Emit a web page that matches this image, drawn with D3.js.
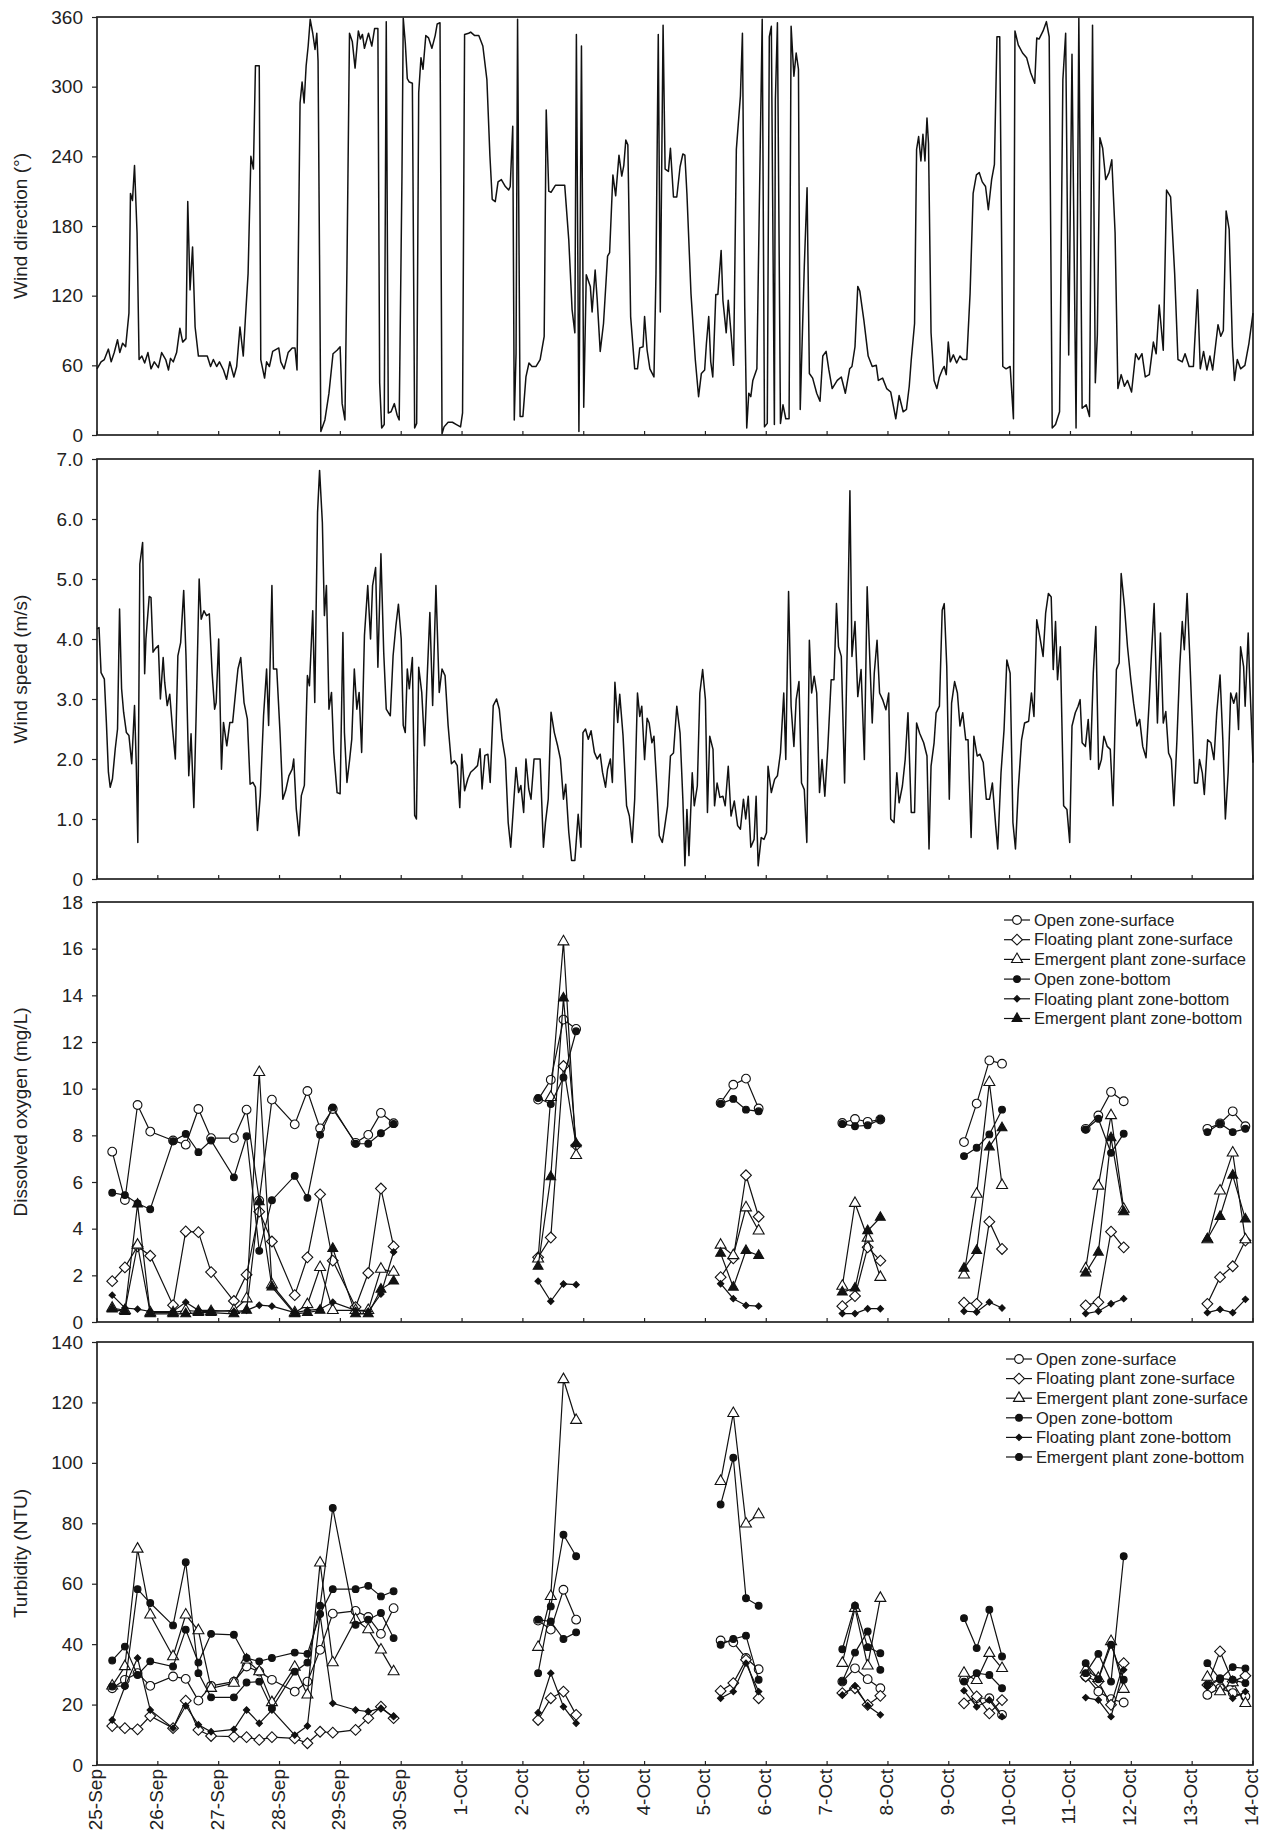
<!DOCTYPE html>
<html>
<head>
<meta charset="utf-8">
<script src="https://cdn.jsdelivr.net/npm/d3@7"></script>
<style>
body{margin:0;background:#fff}
text{font-family:"Liberation Sans",Arial,sans-serif;fill:#222}
</style>
</head>
<body>
<svg id="chart" width="1265" height="1836"></svg>
<script>
// tick labels for the shared time axis (hours since 25-Sep 00:00)
var dateLabels = ['25-Sep','26-Sep','27-Sep','28-Sep','29-Sep','30-Sep','1-Oct','2-Oct','3-Oct','4-Oct',
  '5-Oct','6-Oct','7-Oct','8-Oct','9-Oct','10-Oct','11-Oct','12-Oct','13-Oct','14-Oct'];

// wind direction, [hour, degrees]
var windDir = [[0,57],[1.6,63],[2.9,65],[4.5,74],[5.6,63],[6.8,71],[8.1,82],[9,71],[10.1,79],[11.3,76],[12.6,105],[13.2,208],[14,202],[14.8,232],[15.8,174],[16.6,65],[17.7,68],[18.8,62],[20.1,71],[21.3,57],[22.6,63],
  [24.2,58],[25.5,71],[27.1,65],[28.2,56],[29,66],[30.1,63],[31.4,71],[32.7,92],[33.8,80],[35.1,83],[35.8,201],[36.7,125],[37.7,162],[38.7,93],[40,68],[41.9,68],[43.5,68],[44.8,59],[45.9,65],[47.2,59],
  [48.3,63],[49.9,56],[51.1,48],[52.4,63],[54,50],[55.1,59],[56.4,93],[57.7,68],[58.5,99],[59.6,139],[60.7,240],[61.7,229],[62.5,318],[64,318],[64.6,65],[66.1,49],[66.9,63],[68,59],[69.3,72],[71.7,75],
  [72.5,63],[73.8,57],[75.4,71],[77,75],[78.1,75],[78.9,56],[80.1,286],[80.9,304],[81.7,286],[82.5,318],[83.3,335],[84.1,358],[85.1,346],[86,332],[86.7,346],[87.2,322],[88.3,3],[89.9,13],[91.5,36],[93.1,70],[94.7,73],
  [95.9,76],[96.7,27],[97.8,13],[98.6,145],[99.6,346],[100.7,339],[101.8,316],[103.1,348],[103.9,341],[104.7,345],[105.5,333],[107.1,346],[108.4,335],[109.5,350],[110.8,350],[111.5,45],[112.3,6],[113.3,9],[114.1,356],[114.9,19],[116,20],[117.3,27],[118.4,17],[119.2,13],
  [120.3,223],[120.8,359],[121.6,338],[122.4,307],[123.2,304],[124.4,303],[125.3,6],[126.1,10],[126.9,295],[127.8,325],[128.6,315],[129.7,344],[130.8,342],[132.1,333],[133.4,344],[134.2,354],[135.3,355],[136.1,1],[136.9,7],[138.5,11],[140.2,11],[141.8,9],[143.4,7],
  [144.2,19],[145,345],[146.6,346],[147.4,347],[149,344],[150.6,344],[152.2,335],[153.8,306],[155,240],[155.9,203],[157.1,201],[158.2,218],[159.5,220],[161.1,214],[162.4,211],[163,214],[164,266],[164.6,13],[165.3,70],[165.9,358],[166.9,16],
  [168,16],[169.2,50],[170.4,62],[171.6,59],[173.2,59],[174.8,65],[176.4,85],[177.2,280],[178.2,210],[179.1,209],[180.8,215],[182.8,215],[184.5,215],[186.1,168],[187.4,108],[188.5,88],[189.1,345],[190.1,3],[191.1,335],
  [192,24],[193,138],[194.6,128],[195.3,106],[196.5,142],[197.3,117],[198.5,72],[199.8,96],[201.4,154],[202.2,157],[203.5,224],[204.6,206],[205.9,241],[207,223],[207.8,232],[208.6,254],[209.4,250],[210.5,102],
  [212.1,57],[213.2,57],[214.1,75],[215.4,76],[216,102],[217,73],[218.1,57],[219.7,50],[220.5,139],[221.4,345],[222.2,106],[223.3,353],[224.1,229],[225.4,227],[226.2,247],[227.4,205],[228.7,205],[230,231],[231.1,242],[231.9,241],[232.7,208],[234.3,122],
  [236,65],[237.3,33],[238.4,53],[239.7,56],[240.4,79],[241.3,102],[242.1,63],[242.9,50],[244.1,121],[244.9,121],[246.2,159],[246.9,116],[248.2,88],[249,116],[250.1,88],[251.1,60],[252.2,246],[253.8,292],[254.6,346],[255.5,111],[256.3,6],[257.1,36],[257.9,33],[258.7,47],
  [260.3,57],[261.1,174],[262.4,358],[263.3,7],[264.4,10],[265.2,343],[266,352],[267.2,9],[267.6,289],[268.4,355],[269.6,10],[270.6,26],[271.7,14],[273,14],[273.8,352],[274.9,309],[275.8,329],[276.7,315],[277.4,22],[279,145],[280.1,213],[281,53],[282.3,49],
  [283.9,36],[285.2,29],[286.3,68],[287.6,72],[288.7,56],[290,40],[292,47],[293.6,50],[295.2,36],[296.9,57],[297.8,59],[299,76],[300.1,128],[300.9,124],[302.5,99],[304.2,68],[305.8,59],[307.4,60],[308.2,47],[309.9,49],[311.5,40],[313.1,37],[315.1,14],[316.4,34],[318,20],[319.3,22],
  [320.4,42],[321.2,65],[322.5,96],[323.3,246],[324.1,257],[325,236],[325.8,259],[326.6,236],[327.4,273],[328,251],[329,88],[330.2,47],[331.3,40],[332.3,50],[333.4,56],[334.2,59],[335,52],[335.8,80],[336.6,63],[337.8,69],[339.1,62],[340.4,68],[341.5,65],[343.1,65],
  [344.4,122],[345.6,208],[346.9,224],[348,226],[349.2,218],[350.5,214],[351.6,194],[352.9,220],[354,233],[355,343],[356.1,343],[357.3,59],[358.6,57],[360.2,59],[361.5,14],[362.1,348],[363.4,336],[365.1,329],[366.7,325],[368.3,312],[369.9,303],[370.7,342],[371.6,341],[373.2,348],[374.5,356],[375.6,343],
  [376.8,6],[378.1,9],[379.7,20],[381,306],[382.1,346],[383.3,69],[384.6,328],[386.2,6],[387.3,359],[388.6,23],[390.2,26],[391.5,16],[392.7,353],[393.8,45],[394.6,86],[395.6,256],[396.7,247],[397.9,220],[399.2,226],[400.3,237],[401.6,174],[402.7,40],[404,52],[405.3,42],[406.5,47],
  [408.1,37],[409.7,70],[410.9,65],[412.2,70],[413.5,50],[415.1,52],[416.7,80],[417.8,70],[419,112],[420.6,73],[421.9,211],[423.5,205],[425.1,139],[426.4,65],[428.1,63],[429.2,70],[430.8,59],[432.5,59],[434.1,125],[435.2,57],[436.5,72],[437.8,56],[439,68],[440.1,56],
  [442.2,95],[443.3,85],[444.3,90],[445.4,193],[446.6,177],[447.9,76],[448.7,47],[449.8,65],[451.1,57],[452.8,60],[454.4,79],[456,105]];

// wind speed, [hour, m/s]
var windSpeed = [[0,4.17],[0.8,4.19],[1.6,3.44],[2.9,3.33],[3.7,2.61],[4.5,1.78],[5.2,1.53],[6.1,1.67],[7.2,2.17],[8.1,2.5],[8.9,4.5],[9.7,3.17],[10.5,2.78],[11.6,2.44],[12.6,2.39],[13.7,1.92],[14.8,2.89],[15.5,1.89],[16.1,0.61],[16.9,5.25],[18,5.61],[18.8,3.42],[19.3,4],[20.6,4.71],[21.3,4.69],[22.1,3.78],[23,3.84],
  [24.2,3.89],[25,3],[26.1,3.69],[26.7,3.28],[27.7,2.89],[28.7,3.08],[29.8,2.5],[30.9,2],[31.9,3.72],[33,3.94],[34.2,4.81],[35.1,3.72],[36.2,1.72],[37.1,2.42],[38.2,1.19],[39.1,2.72],[40.3,5],[41.1,4.33],[42.2,4.47],[43.2,4.39],[44.3,4.42],[45.4,3.44],[46.4,2.83],[47,2.94],
  [48,4],[49.1,1.83],[49.9,2.61],[51.2,2.22],[52.4,2.61],[53.5,2.61],[54.8,3.17],[55.6,3.5],[56.7,3.69],[58,2.94],[59.3,2.67],[60.4,1.58],[61.5,1.61],[62.5,1.53],[63.3,0.81],[64.4,1.39],[65.7,2.72],[66.9,3.5],[67.7,2.56],[69,4.89],[69.6,3.5],[70.9,3.5],
  [72.2,2.44],[73.3,1.33],[74.4,1.47],[75.7,1.72],[77,1.83],[77.6,2],[78.6,1.17],[79.7,0.72],[80.6,1.39],[81.8,1.56],[83,3.39],[83.8,3.22],[85.1,4.47],[85.9,2.94],[87,6.11],[87.8,6.81],[88.9,5.94],[89.7,4.39],[90.5,4.89],[91.5,2.83],[92.5,3.11],[93.4,2.11],[94.7,1.44],
  [95.9,1.42],[97,4.11],[97.6,2.44],[98.6,1.61],[99.6,1.97],[100.5,2.33],[101.5,3.5],[102.5,2.83],[103.4,3.11],[104.4,2.11],[105.5,4.06],[106.8,4.89],[107.9,4],[108.7,4.89],[109.9,5.19],[110.8,3.53],[112,5.42],[113.1,3.78],[114.1,2.83],[115.7,2.72],[116.8,3.72],[117.9,4.22],[118.9,4.58],
  [120,4],[120.8,2.56],[121.6,2.44],[122.4,3.5],[123.2,3.17],[124.4,3.69],[125.3,1.06],[126,1],[126.9,3.53],[128.1,3.11],[129.2,2.22],[130.2,3.31],[131.3,4.44],[132.4,2.89],[133.7,4.89],[135,3.11],[136.1,3.5],[137.3,3.39],[138.5,2.56],[139.8,1.92],[141,1.97],[142.1,1.89],[143.1,1.19],
  [143.9,2.08],[145,1.47],[146.3,1.67],[147.4,1.78],[148.7,1.83],[150.1,1.89],[151.1,2.17],[151.9,1.5],[153,2.06],[154.2,2.08],[155.1,1.61],[156.3,2.89],[157.6,3],[158.7,2.83],[159.8,2.33],[161.1,2],[162.2,0.94],[163.2,0.53],[164.3,1.22],[165.3,1.86],[166.3,1.44],[167.2,1.56],
  [168.3,1.11],[169.2,2],[170.3,1.5],[171.2,1.33],[172.4,2],[174.8,2],[176.1,0.53],[176.9,0.94],[178,1.33],[179.1,2.78],[180.4,2.44],[181.7,2.22],[182.8,2],[184,1.33],[184.9,1.58],[186.1,0.78],[187.2,0.31],[188.5,0.31],[189.8,1.08],[190.9,0.53],
  [191.7,2.44],[192.7,2.5],[193.8,2.33],[194.9,2.47],[196.2,2.11],[197.3,2],[198.5,2.08],[199.4,1.78],[200.6,1.53],[201.4,1.83],[202.5,2],[203.3,1.61],[204.3,3.28],[205.4,2.61],[206.2,3.08],[207.5,2.39],[208.9,1.22],[210,1.05],[211.1,0.61],[212.1,1.33],[213.2,3.1],[214.1,2.71],[214.9,2.88],
  [216,1.99],[217,2.68],[217.8,2.6],[218.9,2.27],[219.7,2.38],[220.9,1.49],[221.8,0.72],[223,0.61],[223.8,0.83],[225.1,1.22],[226.2,2.05],[227.4,2.1],[228.7,2.88],[230,2.43],[231.1,1.33],[231.9,0.22],[232.7,1.16],[233.5,0.39],[234.8,1.77],[235.6,1.22],[236.8,1.55],[237.8,3.1],[238.9,3.49],
  [240,2.99],[240.8,1.11],[241.7,2.38],[243,2.16],[243.6,1.22],[244.6,1.6],[245.7,1.36],[246.9,1.38],[247.8,1.22],[249,1.88],[250.1,1.05],[251.4,1.3],[252.7,0.89],[253.8,0.83],[255,1.33],[255.9,1],[256.9,1.38],[257.9,0.53],[259.2,0.66],[260,1.38],[260.8,0.22],[262,0.69],[263.1,0.66],
  [264.1,0.77],[264.7,1.88],[266,1.44],[267.3,1.66],[268.4,1.72],[269.6,2.1],[270.9,3.1],[271.7,1.99],[272.8,4.79],[273.8,2.88],[274.9,2.21],[275.8,2.99],[276.9,3.29],[277.9,1.6],[279,1.49],[280,0.61],[281,3.98],[281.9,3.1],[282.9,3.38],[283.9,3.1],[285,1.44],[286,1.99],[287.1,1.38],
  [288.3,2.21],[289.6,3.32],[290.7,3.32],[291.7,4.59],[292.5,3.87],[293.6,3.71],[294.9,1.6],[296.1,4.21],[297,6.47],[297.8,3.71],[299,4.29],[300.1,3.04],[301.4,3.49],[302.7,1.99],[303.8,4.87],[305,3.49],[305.8,2.6],[306.6,3.43],[307.7,3.98],[308.7,3.1],[309.9,2.99],[311.2,2.82],
  [312.3,3.1],[313.1,1],[314.4,0.94],[315.5,1.77],[316.4,1.27],[317.7,1.55],[318.8,1.99],[319.9,2.77],[321.2,1.11],[322.5,1.11],[323.3,2.6],[324.5,2.43],[326.1,2.27],[327.4,2.05],[328.2,0.5],[329,1.88],[330.2,2.27],[331,2.77],[332.3,2.88],[333.4,4.48],[334.2,4.59],[335.2,3.54],
  [336.2,1.33],[337.1,2.93],[338.3,3.29],[339.4,3.1],[340.4,2.55],[341.5,2.77],[342.7,2.32],[343.6,2.32],[344.8,0.69],[345.9,2.38],[347.2,2.05],[348.3,2.08],[349.6,1.94],[350.8,1.33],[352.1,1.33],[353.2,1.6],[354.5,0.89],[355.3,0.5],[356.6,1.77],[357.8,2.49],[358.9,3.65],
  [360.2,3.43],[361.3,0.94],[362.3,0.5],[363.4,1.49],[364.7,2.32],[365.9,2.6],[367.5,2.63],[368.6,3.1],[369.6,2.71],[370.7,4.32],[371.9,4.04],[373.2,3.71],[374.2,4.43],[375.3,4.76],[376.4,4.7],[377.2,3.49],[378.1,4.29],[378.9,3.32],[380,3.87],[381.3,1.22],[382.6,1.16],[383.7,0.61],
  [384.6,2.55],[385.9,2.77],[387,2.88],[387.8,2.99],[388.6,2.27],[389.9,2.21],[391,2.66],[391.9,1.99],[393,3.43],[394,4.21],[395.1,1.83],[396.2,1.99],[397.2,2.38],[398.5,2.21],[399.7,2.16],[400.8,1.22],[402.1,3.49],[403.2,3.6],[404,5.09],[405.3,4.54],[406.5,3.87],[407.8,3.32],
  [408.9,2.93],[410.2,2.55],[411.3,2.66],[412.5,2.21],[413.8,2.02],[415.1,2.99],[415.9,3.71],[417,4.59],[418.3,2.6],[419.5,4.1],[420.6,2.6],[421.6,2.79],[422.7,2.1],[423.8,1.99],[424.8,1.22],[426,2.32],[427.1,3.54],[428.1,4.29],[428.9,3.82],[430,4.76],[431,3.76],
  [432.1,2.55],[432.9,1.6],[434.1,1.6],[434.9,1.99],[436,1.77],[436.8,1.41],[438.1,2.32],[439.4,2.27],[440.6,1.99],[441.7,2.77],[443,3.4],[444.1,2.32],[445.1,1],[446.2,1.77],[447.2,3.1],[448.4,2.93],[449.5,3.1],[450.3,2.49],[451.1,3.87],[452.3,3.54],[452.9,2.88],[454.1,4.1],[454.7,3.32],[456,1.94]];

// sampling times (hours) for water quality
var sampleHours = [6,11,16,21, 30,35,40,45, 54,59,64,69, 78,83,88,93, 102,107,112,117,
  174,179,184,189, 246,251,256,261, 294,299,304,309, 342,347,352,357, 390,395,400,405, 438,443,448,453];

var seriesNames = ['Open zone-surface','Floating plant zone-surface','Emergent plant zone-surface',
  'Open zone-bottom','Floating plant zone-bottom','Emergent plant zone-bottom'];

// dissolved oxygen (mg/L)
var doOpenSurf = [7.3,5.23,9.3,8.16, 7.78,7.6,9.13,7.88, 7.88,9.1,5.2,9.53, 8.47,9.9,8.3,9.13, 7.68,8.02,8.96,8.52,
  9.53,10.38,12.96,12.56, 9.39,10.17,10.43,9.15, 8.53,8.7,8.58,8.68, 7.71,9.36,11.21,11.07, 8.28,8.85,9.86,9.46, 8.28,8.51,9.03,8.39];
var doFloatSurf = [1.75,2.34,3.24,2.84, 0.72,3.88,3.85,2.14, 0.9,2.03,4.73,3.45, 1.15,2.77,5.47,2.63, 0.64,2.1,5.72,3.24,
  2.77,3.62,10.97,7.57, 1.92,2.73,6.29,4.51, 0.68,1.11,3.2,2.63, 0.83,0.78,4.3,3.13, 0.71,0.85,3.87,3.2, 0.78,1.92,2.39,3.49];
var doEmergSurf = [0.6,0.5,3.3,0.4, 0.4,0.5,0.45,0.45, 0.5,1.0,10.7,1.6, 0.4,0.75,2.34,0.5, 0.5,0.5,2.27,2.14,
  2.71,9.63,16.3,7.14, 3.3,2.85,4.9,3.91, 1.54,5.09,3.6,1.92, 2.02,5.48,10.27,5.86, 2.28,5.83,8.85,4.84, 3.53,5.62,7.25,3.53];
var doOpenBot = [5.54,5.44,5.08,4.83, 7.75,8.06,7.28,7.78, 6.2,7.96,3.05,5.22, 6.26,5.32,8.02,9.2, 7.64,7.64,8.09,8.49,
  9.6,9.34,10.48,12.46, 9.36,9.56,9.1,9.03, 8.49,8.39,8.43,8.68, 7.11,7.47,8.04,9.1, 8.25,8.71,7.25,8.07, 8.14,8.51,8.14,8.28];
var doFloatBot = [1.15,0.6,0.55,0.45, 0.45,0.85,0.5,0.5, 0.45,0.5,0.72,0.68, 0.4,0.5,0.55,0.85, 0.5,0.45,1.2,3.0,
  1.75,0.89,1.63,1.6, 1.64,1.0,0.71,0.68, 0.36,0.36,0.57,0.57, 0.46,0.43,0.85,0.6, 0.36,0.46,0.78,1.0, 0.4,0.54,0.4,0.97];
var doEmergBot = [0.55,0.45,5.05,0.35, 0.35,0.35,0.4,0.4, 0.35,0.5,5.15,1.5, 0.35,0.4,0.5,3.15, 0.35,0.35,1.4,1.75,
  2.38,6.22,13.88,7.64, 2.94,1.49,3.06,2.85, 1.28,1.45,3.91,4.48, 2.3,3.06,7.5,8.32, 2.1,2.99,7.89,4.72, 3.56,4.52,6.29,4.41];

// turbidity (NTU)
var tuOpenSurf = [25.4,28.2,30.4,26.2, 29.3,28.5,21.3,26.2, 27.6,32.6,30.9,28.2, 24.3,27.6,38.1,50.1, 51,49,43.4,51.9,
  47.8,44.8,58,48.1, 41.2,40.6,35.4,31.7, 27.6,32,28.4,25.4, 28.2,22.1,22.1,16.6, 29.3,24.3,21.8,20.7, 23.2,25.4,23.8,22.7];
var tuFloatSurf = [12.9,12.2,11.8,16.2, 12.2,21.3,11.6,9.6, 9.4,9.2,8.3,9.2, 8.8,7.2,11,10.7, 11.6,15.5,19.3,15.5,
  14.9,22.1,24.3,16.6, 24.5,27.1,34.8,22.1, 23.8,25.4,19.9,22.9, 20.4,22.7,17.1,21.5, 29.3,27.6,19.9,33.7, 26.5,37.6,27.6,29.5];
var tuEmergSurf = [26.2,32.6,71.5,49.7, 35.9,49.7,44.5,25.4, 27.1,34.8,30.9,20.7, 32.4,23.2,66.9,33.9, 48.1,44.8,38.1,30.9,
  39,55.8,127.6,114.1, 93.9,116.4,79.8,82.9, 33.7,51.9,32.8,55.2, 30.4,28,37,32, 31.5,28.7,40.9,25.1, 29.1,24.3,27.3,20.4];
var tuOpenBot = [26,26.2,58.2,53.6, 46.2,67.1,30.4,22.4, 22.4,27.3,27.6,18.8, 30.9,33.9,52.7,85.1, 46.4,48.1,50.3,42,
  48.1,47.5,41.7,43.9, 39.8,41.7,42.8,28.2, 27.6,37.2,44.2,31.5, 48.6,38.7,51.4,35.9, 33.7,28.4,39.8,28.2, 33.7,28.4,32.4,32];
var tuFloatBot = [14.9,26,35.4,18.2, 12.2,19.6,13.3,11, 11.8,18.2,13.8,18.2, 9.9,12.9,49.7,20.4, 18.2,17.7,18.8,16,
  17.3,30.4,19.3,13.8, 22.1,24.3,33.7,24.3, 23.2,26.2,19.6,16.6, 24.6,19.3,21.5,16, 22.3,21.5,16,31.5, 26,28.4,22.1,24.3];
var tuEmergBot = [34.6,39.2,29.8,34.3, 32.6,44.8,33.9,43.4, 43.1,35.4,34.3,35.4, 37.2,36.8,50,58.2, 58.2,59.3,55.8,57.5,
  30.4,52.5,76.2,69.1, 86.2,101.7,55.2,52.7, 38.3,52.7,39,37, 27.6,30.4,29.8,25.4, 30.4,36.8,27.6,69.1, 26.5,28.7,28.2,27.1];

/////////////////////////////////////
var left = 97, right = 1253;
var svg = d3.select('#chart');
var x = d3.scaleLinear().domain([0, 456]).range([left, right]);
var hourTicks = dateLabels.map(function(d, i){ return i * 24; });

// marker styles: open circle, open diamond, open triangle, filled circle, small filled diamond, filled triangle
var doMarks = [
  {type: d3.symbolCircle, size: 60, fill: '#fff', rot: 0},
  {type: d3.symbolSquare, size: 58, fill: '#fff', rot: 45},
  {type: d3.symbolTriangle, size: 52, fill: '#fff', rot: 0},
  {type: d3.symbolCircle, size: 36, fill: '#111', rot: 0},
  {type: d3.symbolSquare, size: 20, fill: '#111', rot: 45},
  {type: d3.symbolTriangle, size: 42, fill: '#111', rot: 0}
];
var tuMarks = doMarks.slice(0, 5).concat([{type: d3.symbolCircle, size: 36, fill: '#111', rot: 0}]);

function panel(top, bottom, domain, ticks, fmt, title, bottomLabels){
  var y = d3.scaleLinear().domain(domain).range([bottom, top]);
  var g = svg.append('g');
  g.append('rect')
    .attr('x', left).attr('y', top)
    .attr('width', right - left).attr('height', bottom - top)
    .attr('fill', 'none').attr('stroke', '#222').attr('stroke-width', 1.7);
  var ya = g.append('g').attr('transform', 'translate(' + left + ',0)')
    .call(d3.axisLeft(y).tickValues(ticks).tickFormat(fmt).tickSize(5).tickPadding(9));
  ya.select('.domain').remove();
  ya.selectAll('text').style('font-size', '19px').attr('fill', '#222');
  ya.selectAll('line').attr('stroke', '#222').attr('stroke-width', 1.2);
  g.selectAll('.xt').data(hourTicks).enter().append('line')
    .attr('x1', function(d){ return x(d); }).attr('x2', function(d){ return x(d); })
    .attr('y1', bottom).attr('y2', bottom - 4)
    .attr('stroke', '#222').attr('stroke-width', 1.2);
  g.append('text')
    .attr('transform', 'translate(27,' + ((top + bottom) / 2) + ') rotate(-90)')
    .attr('text-anchor', 'middle')
    .style('font-size', '19px')
    .text(title);
  if (bottomLabels) {
    g.selectAll('.xl').data(dateLabels).enter().append('text')
      .attr('transform', function(d, i){ return 'translate(' + (x(i * 24) + 5) + ',' + (bottom + 4) + ') rotate(-90)'; })
      .attr('text-anchor', 'end')
      .style('font-size', '19px')
      .text(function(d){ return d; });
  }
  return {g: g, y: y};
}

function drawWind(p, data){
  p.g.append('path')
    .datum(data)
    .attr('d', d3.line().x(function(d){ return x(d[0]); }).y(function(d){ return p.y(d[1]); }))
    .attr('fill', 'none').attr('stroke', '#111').attr('stroke-width', 1.5)
    .attr('stroke-linejoin', 'round');
}

function segments(vals){
  var segs = [], cur = [];
  vals.forEach(function(v, i){
    if (i > 0 && sampleHours[i] - sampleHours[i - 1] > 24) { segs.push(cur); cur = []; }
    cur.push([sampleHours[i], v]);
  });
  segs.push(cur);
  return segs;
}

function drawSeries(p, list, marks){
  var line = d3.line().x(function(d){ return x(d[0]); }).y(function(d){ return p.y(d[1]); });
  list.forEach(function(vals, k){
    var m = marks[k];
    var sym = d3.symbol().type(m.type).size(m.size);
    p.g.selectAll('.s' + k).data(segments(vals)).enter().append('path')
      .attr('d', line).attr('fill', 'none').attr('stroke', '#111').attr('stroke-width', 1.2);
    p.g.selectAll('.m' + k).data(vals).enter().append('path')
      .attr('d', sym)
      .attr('transform', function(d, i){ return 'translate(' + x(sampleHours[i]) + ',' + p.y(d) + ') rotate(' + m.rot + ')'; })
      .attr('fill', m.fill).attr('stroke', '#111').attr('stroke-width', 1.1);
  });
}

function legend(p, lx, ly, step, marks){
  seriesNames.forEach(function(name, k){
    var m = marks[k];
    var yy = ly + k * step;
    p.g.append('line').attr('x1', lx).attr('x2', lx + 26).attr('y1', yy).attr('y2', yy)
      .attr('stroke', '#111').attr('stroke-width', 1.2);
    p.g.append('path').attr('d', d3.symbol().type(m.type).size(m.size))
      .attr('transform', 'translate(' + (lx + 13) + ',' + yy + ') rotate(' + m.rot + ')')
      .attr('fill', m.fill).attr('stroke', '#111').attr('stroke-width', 1.1);
    p.g.append('text').attr('x', lx + 30).attr('y', yy).attr('dy', '0.35em')
      .style('font-size', '16.5px').text(name);
  });
}

var p1 = panel(17, 435, [0, 360], [0, 60, 120, 180, 240, 300, 360], d3.format('d'), 'Wind direction (\u00b0)', false);
drawWind(p1, windDir);

var p2 = panel(459, 879, [0, 7], [0, 1, 2, 3, 4, 5, 6, 7], function(d){ return d === 0 ? '0' : d.toFixed(1); }, 'Wind speed (m/s)', false);
drawWind(p2, windSpeed);

var p3 = panel(902, 1322, [0, 18], d3.range(0, 19, 2), d3.format('d'), 'Dissolved oxygen (mg/L)', false);
drawSeries(p3, [doOpenSurf, doFloatSurf, doEmergSurf, doOpenBot, doFloatBot, doEmergBot], doMarks);
legend(p3, 1004, 920, 19.7, doMarks);

var p4 = panel(1342, 1765, [0, 140], d3.range(0, 141, 20), d3.format('d'), 'Turbidity (NTU)', true);
drawSeries(p4, [tuOpenSurf, tuFloatSurf, tuEmergSurf, tuOpenBot, tuFloatBot, tuEmergBot], tuMarks);
legend(p4, 1006, 1359, 19.6, tuMarks);
</script>
</body>
</html>
